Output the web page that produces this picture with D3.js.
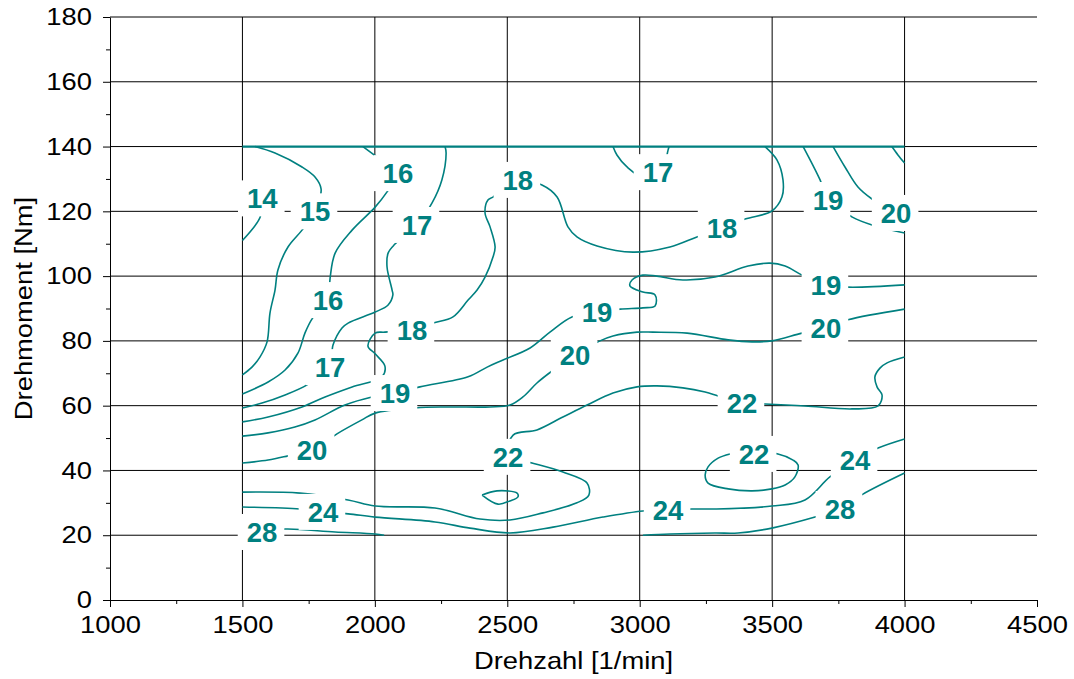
<!DOCTYPE html>
<html>
<head>
<meta charset="utf-8">
<script src="https://cdn.jsdelivr.net/npm/d3@7"></script>
<style>
  body { margin: 0; background: #fff; }
  svg { display: block; }
</style>
</head>
<body>
<div id="chart"></div>
<script>
// axis ticks
const xTicks = [1000, 1500, 2000, 2500, 3000, 3500, 4000, 4500];
const xMinor = [1250, 1750, 2250, 2750, 3250, 3750, 4250];
const yTicks = [0, 20, 40, 60, 80, 100, 120, 140, 160, 180];
const yMinor = [10, 30, 50, 70, 90, 110, 130, 150, 170];
const xGrid = [1500, 2000, 2500, 3000, 3500, 4000];

// map boundary (full load line)
const border = [[1500, 140], [4000, 140]];

// isolines, [rpm, Nm]
const iso14 = [[1500, 111], [1566, 118], [1575, 123]];
const iso15 = [[1547, 140], [1623, 138], [1725, 133.7], [1774, 130.6], [1797, 126.9], [1774, 120], [1725, 114.2],
  [1672, 109], [1634, 101.9], [1623, 95.7], [1604, 88.6], [1593, 79.7], [1566, 75], [1536, 71.9], [1500, 69.5]];
const iso16 = [[1955, 140], [1997, 137.4], [2087, 131.8], [2046, 126], [2001, 121.3], [1914, 114.2], [1850, 107.1],
  [1831, 99.4], [1823, 92.6], [1763, 86.8], [1736, 82.4], [1710, 76.3], [1661, 71], [1597, 67.3], [1500, 63.6]];
const iso17 = [[2265, 140], [2269, 138], [2253, 129.7], [2216, 122.6], [2159, 115.8], [2076, 109.9], [2050, 107.1],
  [2046, 102.8], [2065, 95.7], [2068, 94.2], [2050, 91.1], [2001, 88.9], [1899, 85.5], [1876, 84], [1842, 78.7],
  [1831, 71.9], [1744, 66.4], [1661, 63.3], [1574, 60.8], [1500, 59.3]];
const iso17b = [[2899, 140], [2914, 137.4], [2952, 133.7], [3020, 130.3], [3084, 132.8], [3107, 138.9], [3111, 140]];
const iso18 = [[3473, 140], [3518, 135.9], [3541, 129.7], [3537, 124.4], [3499, 120.1], [3398, 117.6], [3311, 114.9],
  [3216, 112.1], [3114, 109], [2975, 107.4], [2839, 109.3], [2763, 112.1], [2729, 115.2], [2688, 124.4], [2631, 128.1],
  [2540, 129.7], [2446, 124.4], [2427, 123.5], [2416, 119.5], [2435, 115.2], [2454, 109], [2446, 105.9], [2416, 99.7],
  [2386, 95.7], [2352, 92.6], [2295, 87.4], [2220, 85.5], [2140, 83.4], [2038, 82.7], [2001, 82.4], [1974, 78.4],
  [2001, 76], [2038, 72.2], [2027, 68.9], [1914, 65.8], [1812, 62.7], [1725, 59.6], [1597, 56.5], [1500, 55]];
const iso19a = [[3617, 140], [3681, 129.7], [3711, 123.5], [3801, 118.3], [3877, 115.8], [4000, 113.3]];
const iso20a = [[3730, 140], [3775, 133.7], [3824, 127.5], [3877, 123.8], [3968, 119.5], [4000, 118.6]];
const iso21a = [[3952, 140], [3975, 137.4], [4000, 134.9]];
const iso19 = [[1500, 50.6], [1597, 51.6], [1698, 53.4], [1774, 55.6], [1887, 60.2], [1989, 62.7], [2076, 63.9],
  [2170, 65.8], [2352, 68.9], [2424, 71.9], [2484, 74.1], [2586, 77.8], [2661, 82.7], [2744, 87.4], [2839, 88.9],
  [2926, 89.8], [3012, 90.2], [3058, 90.8], [3058, 94.2], [3012, 95.1], [2963, 97], [2971, 98.8], [3012, 100.3],
  [3065, 100], [3163, 98.8], [3284, 99.7], [3409, 103.1], [3492, 104], [3549, 103.1], [3613, 100.3], [3703, 97.3],
  [3786, 96.6], [4000, 97.3]];
const iso20 = [[1500, 42.3], [1597, 43.2], [1672, 44.5], [1763, 46.3], [1857, 51.3], [1951, 55.6], [2001, 57.7],
  [2152, 59.3], [2276, 59.6], [2435, 59.6], [2510, 60.2], [2559, 62.7], [2612, 67], [2669, 70.7], [2756, 75.6],
  [2850, 80], [2899, 81.5], [2990, 82.7], [3050, 82.7], [3179, 82.4], [3334, 80.3], [3424, 79.7], [3499, 80],
  [3613, 82.4], [3703, 84], [3786, 86.5], [4000, 89.8]];
const iso22 = [[1500, 33.3], [1717, 33], [1899, 30.9], [2001, 29], [2227, 28.4], [2397, 25], [2510, 24.7],
  [2635, 26.9], [2763, 30], [2808, 32.4], [2801, 36.1], [2710, 39.5], [2593, 42.3], [2503, 44.2], [2522, 50.9],
  [2612, 52.5], [2710, 56.5], [2801, 60.2], [2899, 63.9], [2990, 65.8], [3065, 66.1], [3163, 65.5], [3247, 64.2],
  [3296, 63], [3386, 60.8], [3473, 60.5], [3624, 59.9], [3801, 59], [3900, 59.9], [3915, 63.3], [3896, 65.8],
  [3888, 68.9], [3907, 71.6], [3934, 73.2], [4000, 75]];
const iso22loop = [[2405, 32.4], [2461, 33.7], [2537, 33], [2540, 31.8], [2510, 30.6], [2465, 29.6], [2405, 32.4]];
const iso22right = [[3341, 45.1], [3296, 43.8], [3258, 41.1], [3247, 38.6], [3258, 36.1], [3334, 34.3], [3424, 33.7],
  [3499, 34.3], [3549, 35.5], [3586, 38], [3598, 41.7], [3579, 43.2], [3522, 45.1], [3432, 45.5], [3341, 45.1]];
const iso24 = [[1500, 28.7], [1717, 28.1], [1804, 27.2], [1899, 26.6], [2001, 25.6], [2227, 24.1], [2359, 22.2],
  [2510, 20.7], [2673, 22.5], [2861, 25.6], [3012, 27.5], [3107, 27.8], [3197, 28.1], [3284, 28.1], [3499, 29],
  [3624, 30.9], [3718, 38], [3813, 43.2], [3900, 46.9], [4000, 49.7]];
const iso28a = [[1500, 21.6], [1574, 21.0], [1661, 21.9], [1850, 21], [2001, 20.4], [2035, 20]];
const iso28b = [[3012, 20], [3114, 20.4], [3284, 20.7], [3371, 20.7], [3499, 22.2], [3662, 25.6], [3756, 28.1],
  [3843, 32.7], [4000, 39.2]];

const isoLines = [iso14, iso15, iso16, iso17, iso17b, iso18, iso19a, iso20a, iso21a, iso19, iso20,
  iso22, iso22loop, iso22right, iso24, iso28a, iso28b];

// labels: [value, rpm, Nm]
const labels = [
  [14, 1575, 124], [15, 1774, 120], [16, 2087, 131.8], [16, 1823, 92.6], [17, 2159, 115.8], [17, 1831, 71.9],
  [18, 2140, 83.4], [18, 2540, 129.7], [18, 3311, 114.9], [17, 3069, 132.1], [19, 3711, 123.5], [20, 3968, 119.5],
  [19, 3703, 97.3], [19, 2839, 88.9], [19, 2076, 63.9], [20, 3703, 84], [20, 2756, 75.6], [20, 1763, 46.3],
  [22, 3386, 60.8], [22, 2503, 44.2], [22, 3432, 45.1], [24, 1804, 27.2], [24, 3107, 27.8], [24, 3813, 43.2],
  [28, 1574, 21], [28, 3756, 28.1]
];

const width = 1074;
const height = 679;
const teal = "#008080";
const font = "'Liberation Sans', Arial, Helvetica, sans-serif";
const stretch = "scale(1.14,1)";

const x = d3.scaleLinear().domain([1000, 4500]).range([110, 1037]);
const y = d3.scaleLinear().domain([0, 180]).range([600, 17]);

const svg = d3.select("#chart")
  .append("svg")
  .attr("width", width)
  .attr("height", height);

//grid
svg.append("g")
  .selectAll("line")
  .data(yTicks.filter((d) => d > 0))
  .join("line")
  .attr("x1", x(1000))
  .attr("x2", x(4500))
  .attr("y1", (d) => y(d))
  .attr("y2", (d) => y(d))
  .attr("stroke", "#000")
  .attr("stroke-width", 1);

svg.append("g")
  .selectAll("line")
  .data(xGrid)
  .join("line")
  .attr("x1", (d) => x(d))
  .attr("x2", (d) => x(d))
  .attr("y1", y(180))
  .attr("y2", y(0))
  .attr("stroke", "#000")
  .attr("stroke-width", 1);

//isolines
const line = d3.line()
  .x((d) => x(d[0]))
  .y((d) => y(d[1]))
  .curve(d3.curveCatmullRom.alpha(0.5));

svg.append("g")
  .selectAll("path")
  .data(isoLines)
  .join("path")
  .attr("d", line)
  .attr("fill", "none")
  .attr("stroke", teal)
  .attr("stroke-width", 1.6);

svg.append("path")
  .datum(border)
  .attr("d", d3.line().x((d) => x(d[0])).y((d) => y(d[1])))
  .attr("fill", "none")
  .attr("stroke", teal)
  .attr("stroke-width", 2.2);

//labels with white box
const boxes = svg.append("g");
const texts = svg.append("g");
labels.forEach((d) => {
  const t = texts.append("text")
    .attr("x", x(d[1]))
    .attr("y", y(d[2]))
    .attr("dy", "0.36em")
    .attr("text-anchor", "middle")
    .attr("font-family", font)
    .attr("font-weight", "bold")
    .attr("font-size", 27.5)
    .attr("fill", teal)
    .text(d[0]);
  const w = t.node().getComputedTextLength();
  boxes.append("rect")
    .attr("x", x(d[1]) - w / 2 - 9)
    .attr("y", y(d[2]) - 18)
    .attr("width", w + 16)
    .attr("height", 36)
    .attr("fill", "#fff");
});

//axes
const gx = svg.append("g")
  .attr("transform", `translate(0,${y(0)})`)
  .call(d3.axisBottom(x).tickValues(xTicks).tickFormat(d3.format("d"))
    .tickSize(7).tickPadding(9).tickSizeOuter(0));
gx.selectAll("text")
  .attr("font-family", font)
  .attr("font-size", 24)
  .attr("fill", "#000")
  .attr("transform", stretch);

svg.append("g")
  .attr("transform", `translate(0,${y(0)})`)
  .call(d3.axisBottom(x).tickValues(xMinor).tickSize(4).tickFormat(""))
  .call((g) => g.select(".domain").remove());

const gy = svg.append("g")
  .attr("transform", `translate(${x(1000)},0)`)
  .call(d3.axisLeft(y).tickValues(yTicks).tickFormat(d3.format("d"))
    .tickSize(7).tickPadding(8.8).tickSizeOuter(0));
gy.selectAll("text")
  .attr("font-family", font)
  .attr("font-size", 24)
  .attr("fill", "#000")
  .attr("transform", stretch);

svg.append("g")
  .attr("transform", `translate(${x(1000)},0)`)
  .call(d3.axisLeft(y).tickValues(yMinor).tickSize(4).tickFormat(""))
  .call((g) => g.select(".domain").remove());

//titles
svg.append("text")
  .attr("transform", `translate(${(x(1000) + x(4500)) / 2},669) ${stretch}`)
  .attr("text-anchor", "middle")
  .attr("font-family", font)
  .attr("font-size", 24)
  .text("Drehzahl [1/min]");

svg.append("text")
  .attr("transform", `translate(32,${(y(0) + y(180)) / 2}) rotate(-90) ${stretch}`)
  .attr("text-anchor", "middle")
  .attr("font-family", font)
  .attr("font-size", 24)
  .text("Drehmoment [Nm]");
</script>
</body>
</html>
